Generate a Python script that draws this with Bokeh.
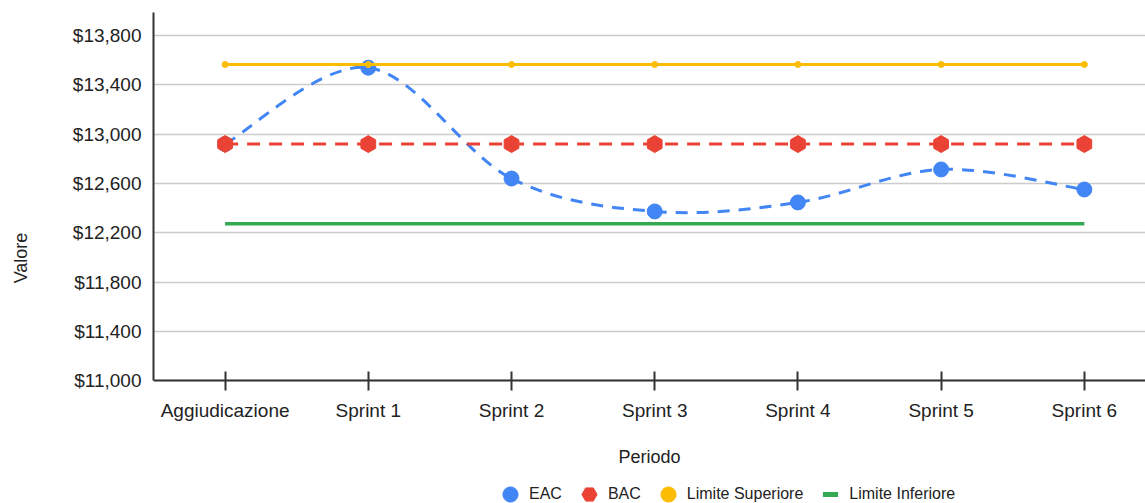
import math
from bokeh.plotting import figure
from bokeh.models import Range1d, FixedTicker, Legend, LegendItem
from bokeh.embed import file_html
from bokeh.resources import INLINE

categories = ["Aggiudicazione", "Sprint 1", "Sprint 2", "Sprint 3", "Sprint 4", "Sprint 5", "Sprint 6"]
eac = [12920, 13540, 12640, 12373, 12446, 12714, 12551]
bac = [12920, 12920, 12920, 12920, 12920, 12920, 12920]
limite_sup = [13566, 13566, 13566, 13566, 13566, 13566, 13566]
limite_inf = [12274, 12274, 12274, 12274, 12274, 12274, 12274]
y_ticks = [11000, 11400, 11800, 12200, 12600, 13000, 13400, 13800]

BLUE = "#4285F4"
RED = "#EA4335"
YELLOW = "#FBBC04"
GREEN = "#34A853"
FONT = "Liberation Sans"
TXT = "#222222"

xs = list(range(len(categories)))
y_min, y_max = y_ticks[0], 13988

# the frame runs to the bottom of the canvas; the x axis is drawn at y_min
p = figure(width=1145, height=503, output_backend="svg", toolbar_location=None,
           x_range=Range1d(-0.5, 6.427), y_range=Range1d(10002, y_max),
           min_border_left=153, min_border_right=0, min_border_top=12, min_border_bottom=0)
p.outline_line_color = None
p.background_fill_color = "white"
p.border_fill_color = "white"

# grid
p.xgrid.grid_line_color = None
p.ygrid.grid_line_color = "#cccccc"
p.ygrid.grid_line_width = 1.5

# axes
p.yaxis.ticker = FixedTicker(ticks=y_ticks)
p.yaxis.bounds = (y_min, y_max)
p.yaxis.major_label_overrides = {t: "${:,}".format(t) for t in y_ticks}
p.yaxis.major_tick_line_color = None
p.yaxis.minor_tick_line_color = None
p.yaxis.axis_line_color = "#333333"
p.yaxis.axis_line_width = 2
p.yaxis.major_label_text_font = FONT
p.yaxis.major_label_text_font_size = "19px"
p.yaxis.major_label_text_color = TXT
p.yaxis.major_label_standoff = 6
p.yaxis.axis_label = "Valore"
p.yaxis.axis_label_text_font = FONT
p.yaxis.axis_label_text_font_size = "18px"
p.yaxis.axis_label_text_font_style = "normal"
p.yaxis.axis_label_text_color = TXT
p.yaxis.axis_label_standoff = 39

p.xaxis.fixed_location = y_min
p.xaxis.ticker = FixedTicker(ticks=xs)
p.xaxis.major_label_overrides = {i: c for i, c in zip(xs, categories)}
p.xaxis.minor_tick_line_color = None
p.xaxis.major_tick_in = 9
p.xaxis.major_tick_out = 10
p.xaxis.major_tick_line_color = "#333333"
p.xaxis.major_tick_line_width = 2
p.xaxis.axis_line_color = "#333333"
p.xaxis.axis_line_width = 2
p.xaxis.major_label_text_font = FONT
p.xaxis.major_label_text_font_size = "19px"
p.xaxis.major_label_text_color = TXT
p.xaxis.major_label_standoff = 9
p.xaxis.axis_label = "Periodo"
p.xaxis.axis_label_text_font = FONT
p.xaxis.axis_label_text_font_size = "18px"
p.xaxis.axis_label_text_font_style = "normal"
p.xaxis.axis_label_text_color = TXT
p.xaxis.axis_label_standoff = 23

# EAC smooth curve (Catmull-Rom -> cubic bezier segments)
n = len(xs)
x0, y0, x1, y1, cx0, cy0, cx1, cy1 = [], [], [], [], [], [], [], []
for i in range(n - 1):
    pm = i - 1 if i > 0 else i
    pp = i + 2 if i + 2 < n else i + 1
    x0.append(xs[i]); y0.append(eac[i])
    x1.append(xs[i + 1]); y1.append(eac[i + 1])
    cx0.append(xs[i] + (xs[i + 1] - xs[pm]) / 6.0)
    cy0.append(eac[i] + (eac[i + 1] - eac[pm]) / 6.0)
    cx1.append(xs[i + 1] - (xs[pp] - xs[i]) / 6.0)
    cy1.append(eac[i + 1] - (eac[pp] - eac[i]) / 6.0)
p.bezier(x0=x0, y0=y0, x1=x1, y1=y1, cx0=cx0, cy0=cy0, cx1=cx1, cy1=cy1,
         line_color=BLUE, line_width=3, line_dash="12 9")
r_eac = p.scatter(xs, eac, marker="circle", size=15, fill_color=BLUE, line_color=BLUE)

# BAC
p.line(xs, bac, line_color=RED, line_width=3, line_dash="13 9")
r_bac = p.scatter(xs, bac, marker="hex", size=17, angle=math.pi / 6,
                  fill_color=RED, line_color=RED)

# Limite Superiore
p.line(xs, limite_sup, line_color=YELLOW, line_width=3)
r_sup = p.scatter(xs, limite_sup, marker="circle", size=6, fill_color=YELLOW, line_color=YELLOW)

# Limite Inferiore
p.line(xs, limite_inf, line_color=GREEN, line_width=3.5)
r_inf_leg = p.scatter([float("nan")], [float("nan")], marker="dash", size=10,
                      line_color=GREEN, line_width=5)

legend = Legend(items=[
    LegendItem(label="EAC", renderers=[r_eac]),
    LegendItem(label="BAC", renderers=[r_bac]),
    LegendItem(label="Limite Superiore", renderers=[r_sup]),
    LegendItem(label="Limite Inferiore", renderers=[r_inf_leg]),
], orientation="horizontal", location=(338, -10))
legend.glyph_width = 38
legend.glyph_height = 38
legend.label_standoff = 0
legend.spacing = 8
legend.padding = 0
legend.margin = 0
legend.border_line_color = None
legend.background_fill_alpha = 0
legend.label_text_font = FONT
legend.label_text_font_size = "16px"
legend.label_text_color = TXT
p.add_layout(legend, "center")

open("out.html", "w").write(file_html(p, INLINE))
